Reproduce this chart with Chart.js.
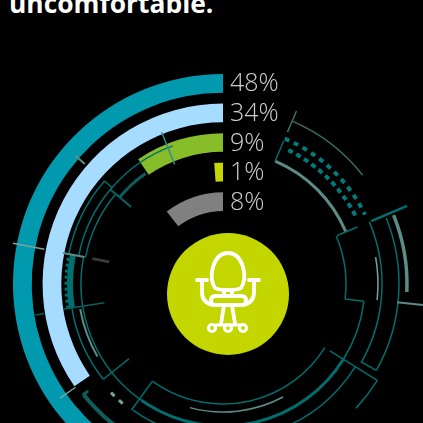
<!DOCTYPE html>
<html>
<head>
<meta charset="utf-8">
<title>uncomfortable</title>
<script src="https://cdn.jsdelivr.net/npm/chart.js@4"></script>
<style>
html, body { margin: 0; padding: 0; width: 423px; height: 423px; overflow: hidden; background: #000; }
#headline { position: absolute; left: 9px; top: -17px; color: #fff; font: 700 26.4px/40px "Open Sans", sans-serif; white-space: nowrap; }
#ringChart { position: absolute; left: -7px; top: 54px; }
</style>
</head>
<body>
<div id="headline">uncomfortable.</div>
<canvas id="ringChart" width="460" height="460"></canvas>
<script>
// values
const ringLabels = ["48%", "34%", "9%", "1%", "8%"];
const ringSweep = [48, 34.6, 9.5, 1.15, 10.5]; // drawn length of each ring, % of a full turn
const ringColors = ["#0099ae", "#a6dcff", "#87bd28", "#c6d600", "#808080"];

const TEAL = "#006e6e";
const DARK = "#0f5c5c";
const SAGE = "#5c8c86";
const PALE = "#7aa39e";

// hud decoration: [radius, fromDeg, toDeg, width, colour, dash] clockwise from 12 o'clock
const hudArcs = [
    [177, 23, 52, 1.5, "#3a6f68"],
    [158, 23, 64, 4, "#007c7c", [5, 5]],
    [149, 26, 64, 4, "#007c7c", [5, 4]],
    [133.5, 23, 67, 3, SAGE],
    [123, 67, 97, 1.5, TEAL],
    [142, 97, 122, 1.5, TEAL],
    [142, 122, 215, 3, TEAL],
    [120, 122, 216, 1.5, TEAL],
    [128, 152, 195, 1.5, SAGE],
    [159, 67, 119.4, 1.5, TEAL],
    [176, 68, 119.4, 1.5, TEAL],
    [184, 68, 92.5, 3.5, SAGE],
    [155, 80, 96, 1.5, PALE],
    [182, 122, 133, 1.5, TEAL],
    [156, 122, 160, 1.5, TEAL],
    [155, 200, 215.5, 1.5, TEAL],
    [142, 215, 281, 1.5, TEAL],
    [153, 231.5, 261, 1.5, TEAL],
    [156, 220, 228, 3, PALE, [5, 6]],
    [178, 180, 231.6, 4, DARK],
    [153, 261, 281, 6, "#007070"],
    [157, 261, 281, 3, "#007070", [3, 3]],
    [145, 240, 260, 2, SAGE],
    [157, 281, 311, 1.5, TEAL],
    [147, 281, 340, 1.5, TEAL],
    [140, 281, 310, 1.5, TEAL],
    [135, 310, 325, 3, DARK]
];

// hud decoration: [angleDeg, innerRadius, outerRadius, width, colour]
const hudSpokes = [
    [23, 165, 188, 1.5, "#3a6f68"],
    [23, 133, 155, 1.5, TEAL],
    [67, 124, 146, 1.5, TEAL],
    [67, 161, 200, 2.5, TEAL],
    [97, 123, 142, 1.5, TEAL],
    [96, 175, 201, 2, SAGE],
    [122, 126, 182, 1.5, TEAL],
    [119.4, 158, 176, 1.5, TEAL],
    [216, 120, 156, 1.5, TEAL],
    [231.5, 120, 153, 1.5, TEAL],
    [231.6, 172, 179, 3, DARK],
    [235, 180, 199, 1.5, PALE],
    [281, 141, 163, 2, SAGE],
    [281, 182, 214, 1.5, PALE],
    [281, 116, 133, 3, "#3a3a3a"],
    [261, 120, 162, 1.5, DARK],
    [260.6, 181, 190, 1.5, DARK],
    [311, 147, 157, 1.5, TEAL],
    [310, 120, 148, 2, DARK],
    [311, 183, 196, 2, SAGE],
    [338, 129, 164, 1.5, "#2f8f8f"]
];

// rings with empty spacers between them, outermost first
const ringDatasets = [];
ringSweep.forEach(function (sweep, i) {
    ringDatasets.push({
        label: ringLabels[i],
        data: [100 - sweep, sweep],
        backgroundColor: ["transparent", ringColors[i]],
        weight: 19
    });
    if (i < ringSweep.length - 1) {
        ringDatasets.push({ data: [100], backgroundColor: ["transparent"], weight: 11 });
    }
});

function drawChair(ctx, x, y) {
    ctx.save();
    ctx.translate(x, y);
    ctx.strokeStyle = "#fff";
    ctx.lineWidth = 3.8;
    ctx.lineCap = "round";
    ctx.lineJoin = "round";
    ctx.stroke(new Path2D("M-13 -6 C-17 -12 -17 -20 -15 -27 C-12 -37 -6 -41 0 -41 C6 -41 12 -37 15 -27 C17 -20 17 -12 13 -6 Q10 -4 0 -4 Q-10 -4 -13 -6 Z"));
    ctx.stroke(new Path2D("M-31 -14 H-21 M-26 -14 V-2 Q-26 9 -15 11 H15 Q26 9 26 -2 V-14 M21 -14 H31"));
    ctx.stroke(new Path2D("M-13 2 H13 Q18 2 18 6.5 Q18 11 13 11 H-13 Q-17 11 -17 6.5 Q-17 2 -13 2 Z"));
    ctx.stroke(new Path2D("M-4 -4 V1 M4 -4 V1 M-4 11 L-7 30 M4 11 L7 30"));
    ctx.lineWidth = 3.2;
    [-16, 0, 15].forEach(function (cx) {
        ctx.beginPath();
        ctx.arc(cx, 34, 3.5, 0, Math.PI * 2);
        ctx.stroke();
    });
    ctx.beginPath();
    ctx.moveTo(-12, 31);
    ctx.lineTo(12, 31);
    ctx.stroke();
    ctx.restore();
}

const hudPlugin = {
    id: "hud",
    afterDatasetsDraw(chart) {
        const ctx = chart.ctx;
        const first = chart.getDatasetMeta(0).data[0];
        const cx = first.x, cy = first.y;
        const rad = Math.PI / 180;

        ctx.save();
        ctx.lineCap = "butt";
        hudArcs.forEach(function (a) {
            ctx.beginPath();
            ctx.arc(cx, cy, a[0], (a[1] - 90) * rad, (a[2] - 90) * rad);
            ctx.lineWidth = a[3];
            ctx.strokeStyle = a[4];
            ctx.setLineDash(a[5] || []);
            ctx.stroke();
        });
        ctx.setLineDash([]);
        hudSpokes.forEach(function (s) {
            const t = s[0] * rad;
            ctx.beginPath();
            ctx.moveTo(cx + s[1] * Math.sin(t), cy - s[1] * Math.cos(t));
            ctx.lineTo(cx + s[2] * Math.sin(t), cy - s[2] * Math.cos(t));
            ctx.lineWidth = s[3];
            ctx.strokeStyle = s[4];
            ctx.stroke();
        });

        // value labels sit at the end of each ring
        ctx.font = '300 25px "Open Sans", sans-serif';
        ctx.fillStyle = "#cfcfcf";
        ctx.textAlign = "left";
        ctx.textBaseline = "middle";
        chart.data.datasets.forEach(function (ds, i) {
            if (!ds.label) return;
            const arc = chart.getDatasetMeta(i).data[1];
            ctx.fillText(ds.label, cx + 7, cy - (arc.innerRadius + arc.outerRadius) / 2 + 1);
        });

        // badge is a little off the ring centre
        const bx = cx + 5, by = cy + 10;
        ctx.beginPath();
        ctx.arc(bx, by, 61, 0, Math.PI * 2);
        ctx.fillStyle = "#c4d600";
        ctx.fill();
        ctx.restore();
        drawChair(ctx, bx, by);
    }
};

new Chart(document.getElementById("ringChart"), {
    type: "doughnut",
    data: { labels: ["rest", "share"], datasets: ringDatasets },
    options: {
        responsive: false,
        animation: false,
        radius: 210,
        cutout: "34.76%",
        hoverOffset: 0,
        borderWidth: 0,
        plugins: { legend: { display: false }, tooltip: { enabled: false } }
    },
    plugins: [hudPlugin]
});
</script>
</body>
</html>
